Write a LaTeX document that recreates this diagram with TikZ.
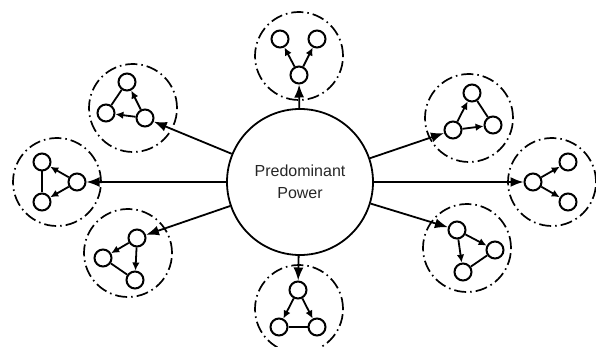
\documentclass[tikz,border=0pt]{standalone}
\usepackage{fontspec}
\setmainfont{Liberation Sans}
\usetikzlibrary{arrows.meta}
\begin{document}
\begin{tikzpicture}[x=1pt,y=-1pt,
  sn/.style={circle,draw,line width=2pt,minimum size=17pt,inner sep=0pt},
  grp/.style={circle,draw,line width=1.7pt,minimum size=88pt,inner sep=0pt,dash pattern=on 12pt off 4pt on 1.6pt off 4pt},
  big/.style={circle,draw,line width=1.8pt,minimum size=146pt,inner sep=0pt,align=center,text=black!85,font=\fontsize{16}{22}\selectfont},
  mainarr/.style={line width=1.8pt,-{Latex[length=13pt,width=10pt]}},
  subarr/.style={line width=1.8pt,-{Latex[length=8pt,width=7.5pt]}},
  lnk/.style={line width=1.8pt}]
\useasboundingbox (0,0) rectangle (596,347);
\clip (0,0) rectangle (596,347);
\node[big] (pp) at (300,182) {Predominant\\Power};
% top
\node[grp] (gT) at (299,56) {};
\node[sn] (Ta) at (299,75) {};
\node[sn] (Tb) at (280,39) {};
\node[sn] (Tc) at (317,39) {};
\draw[subarr] (Ta) -- (Tb);
\draw[subarr] (Ta) -- (Tc);
% bottom
\node[grp] (gB) at (299,309) {};
\node[sn] (Ba) at (298,290) {};
\node[sn] (Bb) at (279,327) {};
\node[sn] (Bc) at (317,327) {};
\draw[subarr] (Ba) -- (Bb);
\draw[subarr] (Ba) -- (Bc);
\draw[lnk] (Bb) -- (Bc);
% left
\node[grp] (gL) at (57,182) {};
\node[sn] (La) at (77,182) {};
\node[sn] (Lb) at (42,162) {};
\node[sn] (Lc) at (42,202) {};
\draw[subarr] (La) -- (Lb);
\draw[subarr] (La) -- (Lc);
\draw[lnk] (Lb) -- (Lc);
% right
\node[grp] (gR) at (552,182) {};
\node[sn] (Ra) at (533,182) {};
\node[sn] (Rb) at (568,162) {};
\node[sn] (Rc) at (568,202) {};
\draw[subarr] (Ra) -- (Rb);
\draw[subarr] (Ra) -- (Rc);
% upper left
\node[grp] (gUL) at (133,108) {};
\node[sn] (ULa) at (145,118) {};
\node[sn] (ULb) at (127,82) {};
\node[sn] (ULc) at (106,113) {};
\draw[subarr] (ULa) -- (ULb);
\draw[subarr] (ULa) -- (ULc);
\draw[lnk] (ULb) -- (ULc);
% lower left
\node[grp] (gLL) at (128,253) {};
\node[sn] (LLa) at (137,238) {};
\node[sn] (LLb) at (103,258) {};
\node[sn] (LLc) at (135,280) {};
\draw[subarr] (LLa) -- (LLb);
\draw[subarr] (LLa) -- (LLc);
\draw[lnk] (LLb) -- (LLc);
% upper right
\node[grp] (gUR) at (469,118) {};
\node[sn] (URa) at (453,130) {};
\node[sn] (URb) at (472,93) {};
\node[sn] (URc) at (493,125) {};
\draw[subarr] (URa) -- (URb);
\draw[subarr] (URa) -- (URc);
\draw[lnk] (URb) -- (URc);
% lower right
\node[grp] (gLR) at (467,248) {};
\node[sn] (LRa) at (457,230) {};
\node[sn] (LRb) at (495,250) {};
\node[sn] (LRc) at (463,272) {};
\draw[subarr] (LRa) -- (LRb);
\draw[subarr] (LRa) -- (LRc);
\draw[lnk] (LRb) -- (LRc);
% main arrows
\draw[mainarr] (pp) -- (Ta);
\draw[mainarr] (pp) -- (Ba);
\draw[mainarr] (pp) -- (La);
\draw[mainarr] (pp) -- (Ra);
\draw[mainarr] (pp) -- (ULa);
\draw[mainarr] (pp) -- (LLa);
\draw[mainarr] (pp) -- (URa);
\draw[mainarr] (pp) -- (LRa);
\end{tikzpicture}
\end{document}
